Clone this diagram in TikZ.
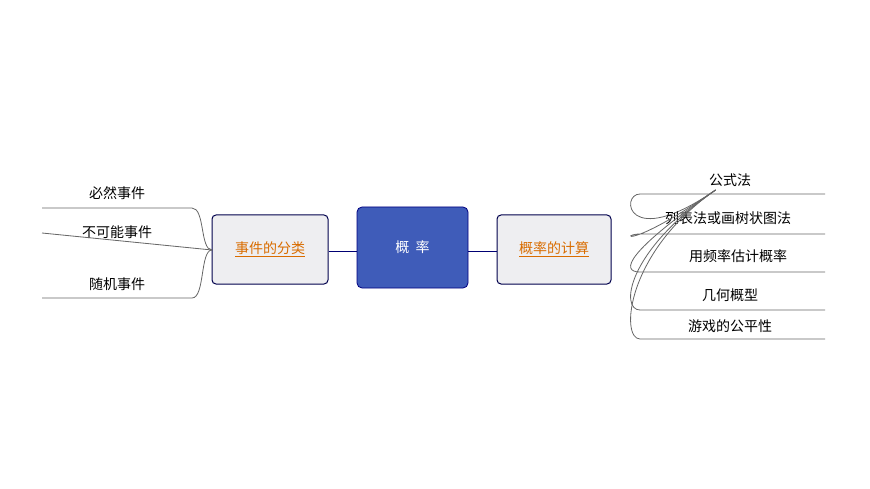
\documentclass[tikz,border=0pt]{standalone}
\usepackage{fontspec}
\newfontfamily\cjk{Noto Sans CJK SC}
\begin{document}
\begin{tikzpicture}[x=1pt,y=-1pt,
  lbl/.style={font=\cjk\fontsize{14}{16}\selectfont, text=black},
  sub/.style={draw=black!70!blue, line width=1pt, rounded corners=4pt, fill=blue!8!gray!12, font=\cjk\fontsize{14}{16}\selectfont, text=orange!85!black, inner sep=0pt},
  br/.style={draw=black!60, line width=0.8pt},
  link/.style={draw=blue!45!black, line width=1pt}]
\useasboundingbox (0,0) rectangle (870,489);
\node[sub, minimum width=116pt, minimum height=69pt] (L) at (270,249.5) {\underline{事件的分类}};
\node[draw=blue!50!black, fill={rgb,255:red,63;green,92;blue,185}, rounded corners=5pt, minimum width=111pt, minimum height=81pt, text=white, font=\cjk\fontsize{14}{16}\selectfont, line width=0.8pt] (C) at (412.5,247.5) {概\ \ 率};
\node[sub, minimum width=114pt, minimum height=69pt] (R) at (554,249.5) {\underline{概率的计算}};
\draw[link] (L.east |- 0,251) coordinate (l1) -- (C.west |- l1);
\draw[link] (C.east |- l1) -- (R.west |- l1);
% left branches
\coordinate (la) at (212,250);
\foreach \y/\t/\ty/\n in {208/必然事件/193/a, 233/不可能事件/232/b, 298/随机事件/284/c}{
  \coordinate (le\n) at (42,\y);
  \node[lbl] (t\n) at (117,\ty) {\t};
}
\draw[br] (lea) -- (192,208) .. controls (205,208) and (200,250) .. (la);
\draw[br] (leb) -- (la);
\draw[br] (lec) -- (192,298) .. controls (205,298) and (200,250) .. (la);
% right branches
\coordinate (ra) at (612,252);
\foreach \y/\t/\ty/\tx/\n in {194/公式法/180/730/a, 234/列表法或画树状图法/218/728/b, 272/用频率估计概率/256/738/c, 310/几何概型/295/730/d, 339/游戏的公平性/326/730/e}{
  \coordinate (re\n) at (825,\y);
  \node[lbl] (r\n) at (\tx,\ty) {\t};
  \draw[br] (ra) .. controls (626,252) and (620,\y) .. (640,\y) -- (re\n);
}
\end{tikzpicture}
\end{document}
